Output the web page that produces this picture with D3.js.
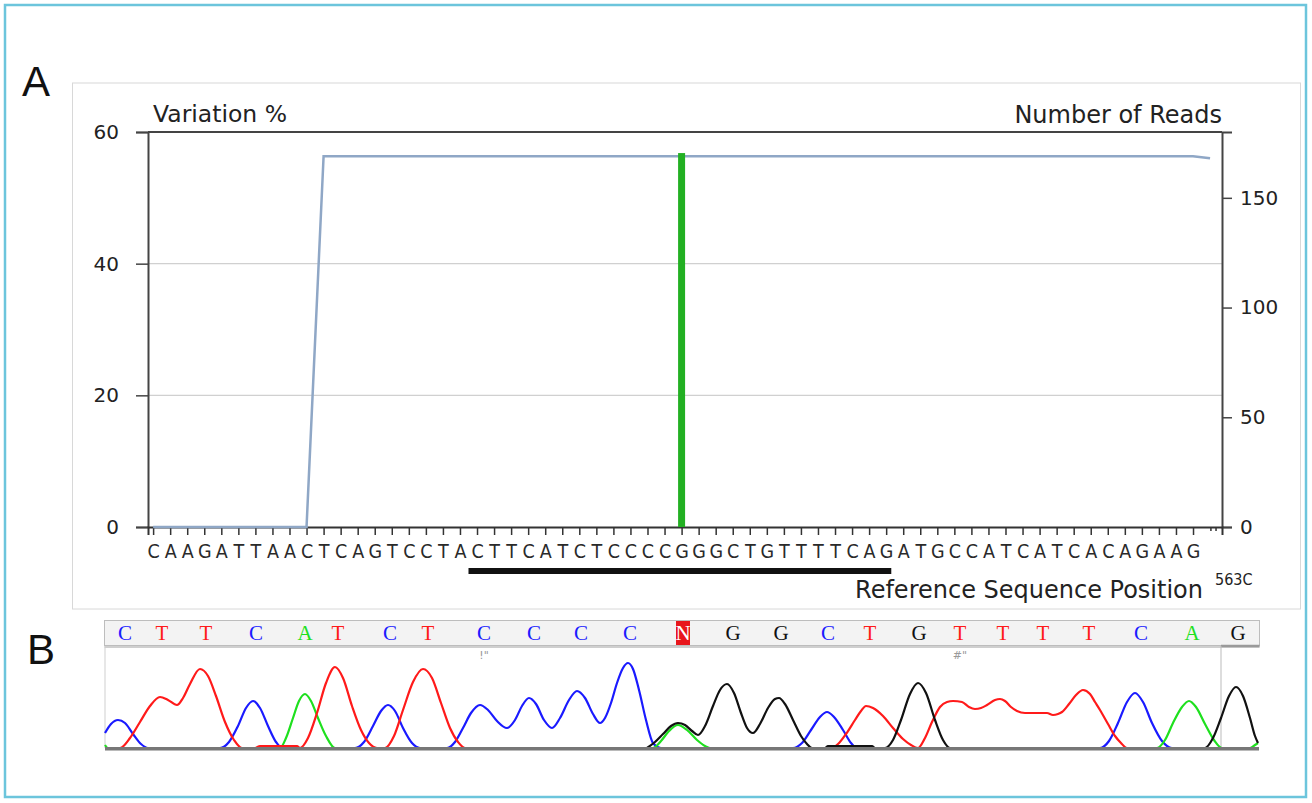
<!DOCTYPE html>
<html><head><meta charset="utf-8">
<script src="https://cdn.jsdelivr.net/npm/d3@7/dist/d3.min.js"></script>
<style>
html,body{margin:0;padding:0;background:#fff;}
svg{display:block;}
</style></head>
<body>
<svg id="chart" width="1312" height="803"></svg>
<script>
// ---------- Panel A data ----------
const refSequence = "CAAGATTAACTCAGTCCTACTTCATCTCCCCGGGCTGTTTTCAGATGCCATCATCACAGAAG".split("");
const readPositions = d3.range(0, 63);
const readCounts = [0,0,0,0,0,0,0,0,0,0,
  169,169,169,169,169,169,169,169,169,169,
  169,169,169,169,169,169,169,169,169,169,
  169,169,169,169,169,169,169,169,169,169,
  169,169,169,169,169,169,169,169,169,169,
  169,169,169,169,169,169,169,169,169,169,
  169,169,168];
const variantPositions = [31];
const variantPercent = [56.8];
const leftTicks = [0, 20, 40, 60];
const rightTicks = [0, 50, 100, 150];
const amplicon = [18.5, 43.3];
const positionLabel = "563C";

// ---------- Panel B data ----------
const calledBases = ["C","T","T","C","A","T","C","T","C","C","C","C","N","G","G","C","T","G","T","T","T","T","C","A","G"];
const calledPositions = [20,57,101,151,200,233,285,323,379,429,476,525,578,628,676,723,765,814,855,898,938,984,1036,1087,1133];
const traceA = [[0,3],[3,0],[175,0],[181,10],[188,30],[194,47],[200,54],[206,47],[213,30],[221,12],[230,0],
  [548,0],[556,7],[564,17],[573,23],[582,18],[592,8],[600,2],[605,0],
  [1052,0],[1060,8],[1068,25],[1077,41],[1084,47],[1091,41],[1100,24],[1109,8],[1117,0],[1145,0],[1150,3],[1153,5]];
const traceC = [[0,15],[6,24],[13,28],[20,25],[28,14],[36,4],[43,0],
  [115,0],[124,6],[133,22],[141,40],[148,47],[155,40],[163,22],[171,6],[177,0],
  [250,0],[259,6],[268,22],[276,37],[283,43],[290,37],[298,20],[307,5],[315,0],
  [342,0],[350,6],[358,20],[366,35],[375,43],[383,38],[392,27],[402,20],[410,28],[417,42],[424,50],[431,44],[439,28],[447,20],[455,30],[464,48],[472,57],[480,50],[488,34],[495,25],[500,30],[506,45],[512,65],[518,80],[523,85],[528,79],[534,58],[541,28],[548,5],[556,0],
  [688,0],[697,5],[706,18],[715,31],[722,36],[729,31],[738,18],[746,5],[752,0],
  [995,0],[1004,7],[1013,25],[1022,46],[1030,55],[1038,46],[1047,25],[1057,7],[1067,0],[1153,0]];
const traceG = [[542,0],[550,6],[558,14],[566,22],[573,25],[580,23],[587,17],[593,13],[600,22],[608,42],[615,58],[622,64],[629,55],[636,35],[642,20],[648,15],[655,24],[663,40],[670,49],[674,50],[680,44],[688,28],[696,12],[702,4],[707,0],
  [720,0],[723,2],[767,2],[770,0],
  [780,0],[788,8],[796,28],[805,54],[813,65],[821,55],[830,28],[838,8],[845,0],
  [1100,0],[1108,10],[1116,30],[1124,52],[1131,61],[1138,52],[1145,30],[1150,12],[1153,5]];
const traceT = [[0,0],[15,0],[25,10],[35,26],[45,42],[55,51],[63,48],[72,43],[78,50],[85,64],[95,79],[103,72],[111,52],[120,26],[129,8],[137,0],
  [150,0],[155,2],[192,2],[195,0],[203,10],[212,35],[221,65],[230,81],[238,70],[247,42],[256,18],[264,5],[272,0],
  [280,0],[289,12],[298,38],[308,66],[318,79],[327,70],[336,45],[345,20],[353,6],[360,0],
  [725,0],[733,4],[741,14],[750,28],[756,37],[761,42],[768,40],[778,32],[788,20],[798,9],[806,3],[813,0],
  [820,10],[827,26],[835,41],[842,46],[848,47],[857,46],[864,41],[870,39],[876,40],[882,43],[890,48],[895,49],[900,47],[906,41],[912,37],[920,35],[935,35],[942,35],[948,33],[953,34],[957,36],[964,44],[971,53],[978,58],[985,54],[990,46],[995,38],[1003,24],[1010,12],[1016,5],[1022,0],[1153,0]];
const qualityMarks = [{pos:379, text:"!\""},{pos:855, text:"#\""}];

const baseColor = {A:"#1ee01e", C:"#1a1aff", G:"#111111", T:"#ff1a1a", N:"#ffffff"};

const svg = d3.select("#chart");
const fontUI = "'DejaVu Sans', Verdana, sans-serif";

// outer border
svg.append("rect").attr("x",5).attr("y",5).attr("width",1301).attr("height",792)
  .attr("fill","#fff").attr("stroke","#6cc5dc").attr("stroke-width",2.5);

// panel letters
svg.append("text").attr("x",22).attr("y",96).text("A")
  .attr("font-family","'Liberation Sans', Arial, sans-serif").attr("font-size",42).attr("fill","#111");
svg.append("text").attr("x",27).attr("y",664).text("B")
  .attr("font-family","'Liberation Sans', Arial, sans-serif").attr("font-size",42).attr("fill","#111");

// panel A frame
svg.append("rect").attr("x",72.5).attr("y",83).attr("width",1228).attr("height",526)
  .attr("fill","#fff").attr("stroke","#d8d8d8").attr("stroke-width",1);

// scales
const x = d3.scaleLinear().domain([-0.3, 62.7]).range([148, 1222]);
const yL = d3.scaleLinear().domain([0, 60]).range([527, 132]);
const yR = d3.scaleLinear().domain([0, 180]).range([527, 132]);

// grid
svg.append("g").selectAll("line").data([20,40]).join("line")
  .attr("x1",148).attr("x2",1222).attr("y1",d=>yL(d)).attr("y2",d=>yL(d))
  .attr("stroke","#d0d0d0").attr("stroke-width",1.2);

// left axis
const gL = svg.append("g").attr("transform","translate(148,0)")
  .call(d3.axisLeft(yL).tickValues(leftTicks).tickSize(12).tickPadding(17).tickFormat(d3.format("d")));
gL.select(".domain").attr("stroke","#444").attr("stroke-width",2);
gL.selectAll(".tick line").attr("stroke","#444").attr("stroke-width",1.5);
gL.selectAll("text").attr("font-family",fontUI).attr("font-size",20).attr("fill","#222");

// right axis
const gR = svg.append("g").attr("transform","translate(1222,0)")
  .call(d3.axisRight(yR).tickValues(rightTicks).tickSize(10).tickPadding(8).tickFormat(d3.format("d")));
gR.select(".domain").attr("stroke","#444").attr("stroke-width",2);
gR.selectAll(".tick line").attr("stroke","#444").attr("stroke-width",1.5);
gR.selectAll("text").attr("font-family",fontUI).attr("font-size",20).attr("fill","#222");

// top border
svg.append("line").attr("x1",x.range()[0]).attr("x2",x.range()[1]).attr("y1",yL(60)).attr("y2",yL(60))
  .attr("stroke","#444").attr("stroke-width",2);

// bottom axis with sequence letters
const gB = svg.append("g").attr("transform","translate(0,527)")
  .call(d3.axisBottom(x).tickValues(d3.range(refSequence.length)).tickSize(8).tickPadding(6)
    .tickFormat(i => refSequence[i]));
gB.select(".domain").attr("stroke","#333").attr("stroke-width",2);
gB.selectAll(".tick line").attr("stroke","#333").attr("stroke-width",1.5);
gB.selectAll("text").attr("font-family","'DejaVu Sans Condensed','DejaVu Sans',sans-serif")
  .attr("font-size",19.5).attr("fill","#2a2a2a").attr("dy","0.85em");
// small trailing ticks
svg.append("g").selectAll("line").data([62.05, 62.35]).join("line")
  .attr("x1",d=>x(d)).attr("x2",d=>x(d)).attr("y1",527).attr("y2",531)
  .attr("stroke","#333").attr("stroke-width",1.5);

// reads line
svg.append("path").datum(readPositions.map((p,i)=>[p, readCounts[i]]))
  .attr("d", d3.line().x(d=>x(d[0])).y(d=>yR(d[1])))
  .attr("fill","none").attr("stroke","#8fa7c6").attr("stroke-width",2.5);

// variation bar
svg.append("g").selectAll("rect").data(variantPositions).join("rect")
  .attr("x",(d)=>x(d)-3.5).attr("width",7)
  .attr("y",(d,i)=>yL(variantPercent[i])).attr("height",(d,i)=>yL(0)-yL(variantPercent[i]))
  .attr("fill","#22b022");

// titles
svg.append("text").attr("x",153).attr("y",122).text("Variation %")
  .attr("font-family",fontUI).attr("font-size",23.5).attr("fill","#222");
svg.append("text").attr("x",1222).attr("y",123).attr("text-anchor","end").text("Number of Reads")
  .attr("font-family",fontUI).attr("font-size",24).attr("fill","#222");
svg.append("text").attr("x",1203).attr("y",598).attr("text-anchor","end").text("Reference Sequence Position")
  .attr("font-family",fontUI).attr("font-size",24).attr("fill","#222");
svg.append("text").attr("x",1215).attr("y",585).text(positionLabel)
  .attr("font-family","'DejaVu Sans Condensed','DejaVu Sans',sans-serif").attr("font-size",16).attr("fill","#222");

// amplicon underline
svg.append("rect").attr("x",x(amplicon[0])).attr("width",x(amplicon[1])-x(amplicon[0]))
  .attr("y",568).attr("height",6).attr("fill","#111");

// ---------- Panel B ----------
const cx = d3.scaleLinear().domain([0,1153]).range([105,1258]);
const cy = d3.scaleLinear().domain([0,100]).range([748,648]);

// header
svg.append("rect").attr("x",104.5).attr("y",620.5).attr("width",1155).attr("height",25)
  .attr("fill","#f3f3f3").attr("stroke","#bdbdbd").attr("stroke-width",1);
svg.append("line").attr("x1",104.5).attr("x2",1259.5).attr("y1",647).attr("y2",647)
  .attr("stroke","#cfcfcf").attr("stroke-width",2);
svg.append("line").attr("x1",1221).attr("x2",1259.5).attr("y1",646).attr("y2",646)
  .attr("stroke","#9a9a9a").attr("stroke-width",2.5);
svg.append("line").attr("x1",1221).attr("x2",1221).attr("y1",646).attr("y2",748)
  .attr("stroke","#bbbbbb").attr("stroke-width",1);
svg.append("line").attr("x1",105).attr("x2",105).attr("y1",646).attr("y2",748)
  .attr("stroke","#cfcfcf").attr("stroke-width",1);

// N highlight
svg.append("g").selectAll("rect").data(calledBases.map((b,i)=>({b, p:calledPositions[i]})).filter(d=>d.b==="N")).join("rect")
  .attr("x",d=>cx(d.p)-7).attr("width",14).attr("y",621).attr("height",24).attr("fill","#e8161c");

svg.append("g").selectAll("text").data(calledBases).join("text")
  .attr("x",(d,i)=>cx(calledPositions[i])).attr("y",640).attr("text-anchor","middle")
  .attr("font-family","'Liberation Serif','DejaVu Serif',serif").attr("font-size",21)
  .attr("fill",d=>baseColor[d]).text(d=>d);

svg.append("g").selectAll("text").data(qualityMarks).join("text")
  .attr("x",d=>cx(d.pos)).attr("y",659).attr("text-anchor","middle")
  .attr("font-family",fontUI).attr("font-size",11).attr("fill","#999").text(d=>d.text);

// traces
const tline = d3.line().x(d=>cx(d[0])).y(d=>cy(d[1])).curve(d3.curveMonotoneX);
[[traceC,"#1a1aff"],[traceA,"#1ee01e"],[traceT,"#ff1a1a"],[traceG,"#111111"]].forEach(([data,col])=>{
  svg.append("path").datum(data).attr("d",tline).attr("fill","none")
    .attr("stroke",col).attr("stroke-width",2.2).attr("stroke-linejoin","round");
});

// baseline (covers zero-level trace segments)
svg.append("line").attr("x1",105).attr("x2",1259).attr("y1",748.7).attr("y2",748.7)
  .attr("stroke","#777").attr("stroke-width",3.6);
</script>
</body></html>
